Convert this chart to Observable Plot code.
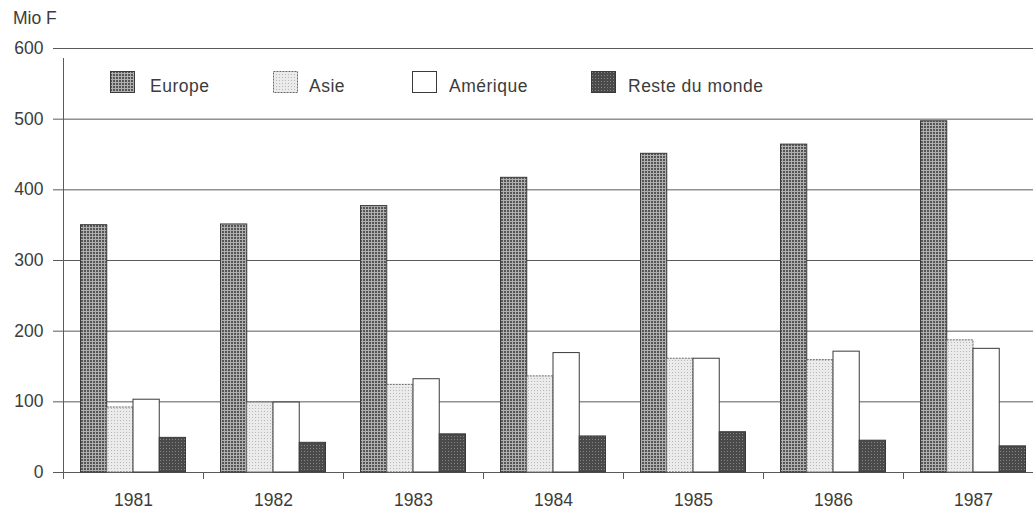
<!DOCTYPE html>
<html>
<head>
<meta charset="utf-8">
<script src="https://cdn.jsdelivr.net/npm/d3@7"></script>
<script src="https://cdn.jsdelivr.net/npm/@observablehq/plot@0.6"></script>
<style>
  html, body { margin: 0; padding: 0; background: #fff; overflow: hidden; }
  body { font-family: "Liberation Sans", Arial, Helvetica, sans-serif; color: #3c3c3c; }
  #wrap { position: relative; width: 1033px; height: 511px; }
  #unit { position: absolute; left: 13px; top: 10px; font-size: 17.5px; line-height: 1; }
  #chart { position: absolute; left: 0; top: 30px; }
  .item { position: absolute; top: 71px; height: 22px; }
  .item svg { position: absolute; left: 0; top: 0; }
  .item span { position: absolute; top: 6.5px; white-space: nowrap; font-size: 17.5px; line-height: 1; letter-spacing: 0.5px; }
</style>
</head>
<body>
<svg width="0" height="0" style="position:absolute">
  <defs>
    <pattern id="pEurope" width="3" height="3" patternUnits="userSpaceOnUse">
      <rect width="3" height="3" fill="#b0b0b0"/>
      <rect x="0" y="0" width="2" height="2" fill="#555"/>
    </pattern>
    <pattern id="pAsie" width="3" height="3" patternUnits="userSpaceOnUse">
      <rect width="3" height="3" fill="#ebebeb"/>
      <rect x="0" y="0" width="1" height="1" fill="#b8b8b8"/>
    </pattern>
    <pattern id="pAmerique" width="3" height="3" patternUnits="userSpaceOnUse">
      <rect width="3" height="3" fill="#ffffff"/>
    </pattern>
    <pattern id="pReste" width="3" height="3" patternUnits="userSpaceOnUse">
      <rect width="3" height="3" fill="#4a4a4a"/>
      <rect x="1" y="1" width="1" height="1" fill="#858585"/>
    </pattern>
  </defs>
</svg>
<div id="wrap">
  <div id="unit">Mio F</div>
  <div id="chart"></div>
  <div id="legend"></div>
</div>
<script>
// ---- data ----
const years = [1981, 1982, 1983, 1984, 1985, 1986, 1987];
const regions = ["Europe", "Asie", "Amérique", "Reste du monde"];
const europe   = [350, 351, 377, 417, 451, 464, 497];
const asie     = [92, 99, 124, 136, 161, 159, 187];
const amerique = [103, 99, 132, 169, 161, 171, 175];
const reste    = [49, 42, 54, 51, 57, 45, 37];
const yTicks = [0, 100, 200, 300, 400, 500, 600];

// ---- styles ----
const fills = {"Europe": "url(#pEurope)", "Asie": "url(#pAsie)", "Amérique": "url(#pAmerique)", "Reste du monde": "url(#pReste)"};
const strokes = {"Europe": "#3a3a3a", "Asie": "#6a6a6a", "Amérique": "#3a3a3a", "Reste du monde": "#3a3a3a"};
const dashes = {"Europe": null, "Asie": "2,1", "Amérique": null, "Reste du monde": null};
const legendLeft = [110, 273, 412, 591];
const textOffset = [40, 36, 37, 37];

// ---- table ----
const series = [europe, asie, amerique, reste];
const groupW = 0.75, barW = groupW / regions.length;
const table = [];
years.forEach((yr, i) => {
  regions.forEach((r, j) => {
    const x1 = yr - groupW / 2 + j * barW;
    table.push({year: yr, region: r, value: series[j][i], x1, x2: x1 + barW});
  });
});
const xDomain = [years[0] - 0.5, years[years.length - 1] + 0.5];
const boundaries = d3.range(years.length + 1).map(k => xDomain[0] + k);

const grid = "#5a5a5a";
const marks = [
  Plot.ruleY(yTicks, {stroke: grid, strokeWidth: 1}),
  ...regions.map(r => Plot.rectY(table.filter(d => d.region === r), {
    x1: "x1", x2: "x2", y1: 0, y2: "value",
    fill: fills[r], stroke: strokes[r], strokeWidth: 1,
    strokeDasharray: dashes[r] || undefined
  })),
  Plot.ruleX([xDomain[0]], {y1: 0, y2: 600, stroke: grid, insetBottom: -10}),
  Plot.axisY({ticks: yTicks, tickSize: 10, tickPadding: 10, label: null, fontSize: 17.5, stroke: grid}),
  Plot.axisX({ticks: boundaries, tickSize: 7, tickFormat: () => "", label: null, stroke: grid}),
  Plot.axisX({ticks: years, tickSize: 0, tickPadding: 21, tickFormat: d => String(d), label: null, fontSize: 17.5})
];

const chart = Plot.plot({
  width: 1033,
  height: 481,
  marginLeft: 63,
  marginRight: -10,
  marginTop: 18,
  marginBottom: 39,
  style: {fontFamily: '"Liberation Sans", Arial, Helvetica, sans-serif', color: "#3c3c3c", background: "transparent", overflow: "hidden"},
  x: {type: "linear", domain: xDomain},
  y: {domain: [0, 600]},
  marks
});
document.getElementById("chart").appendChild(chart);

// ---- legend (inside plot area) ----
const legend = document.getElementById("legend");
regions.forEach((r, j) => {
  const item = document.createElement("div");
  item.className = "item";
  item.style.left = legendLeft[j] + "px";
  const dash = dashes[r] ? `stroke-dasharray="${dashes[r]}"` : "";
  item.innerHTML = `<svg width="26" height="23"><rect x="0.5" y="0.5" width="24" height="21" fill="${fills[r]}" stroke="${strokes[r]}" ${dash}/></svg><span style="left:${textOffset[j]}px">${r}</span>`;
  legend.appendChild(item);
});
</script>
</body>
</html>
